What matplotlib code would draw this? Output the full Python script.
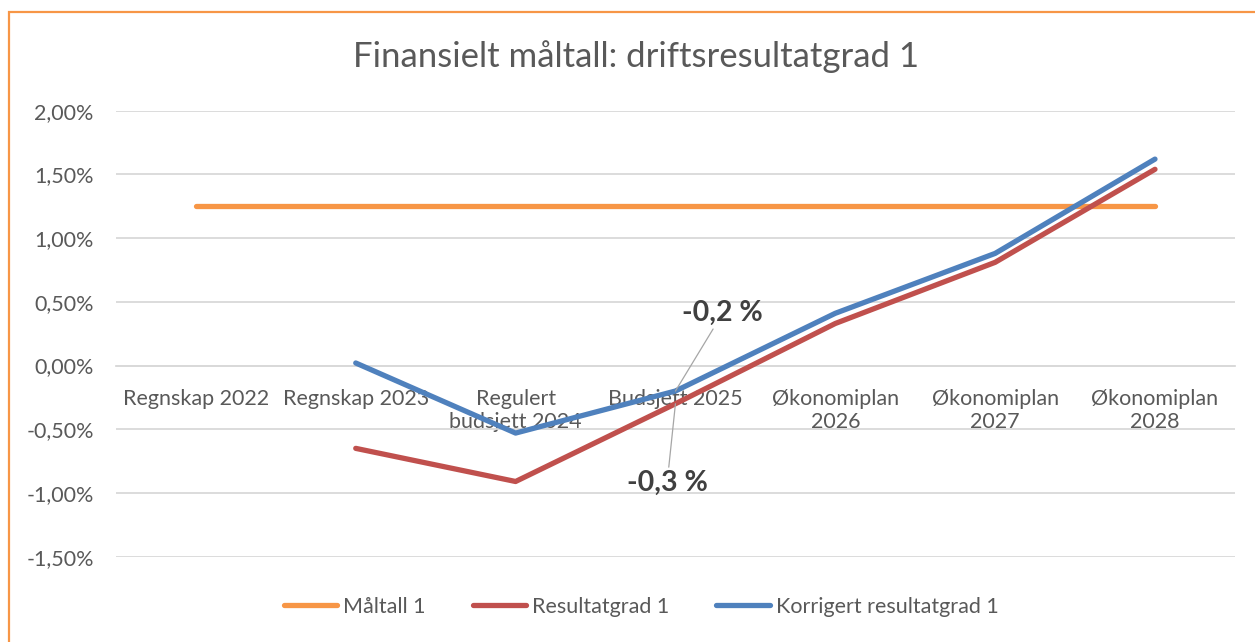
import numpy as np
import matplotlib.pyplot as plt
from matplotlib.patches import Rectangle
from matplotlib.ticker import FuncFormatter, MultipleLocator

plt.rcParams["font.family"] = ["Lato", "DejaVu Sans"]

# Data (percent)
categories = [
    "Regnskap 2022",
    "Regnskap 2023",
    "Regulert\nbudsjett 2024",
    "Budsjett 2025",
    "Økonomiplan\n2026",
    "Økonomiplan\n2027",
    "Økonomiplan\n2028",
]
maltall = [1.25, 1.25, 1.25, 1.25, 1.25, 1.25, 1.25]
resultatgrad = [np.nan, -0.65, -0.91, -0.30, 0.33, 0.81, 1.54]
korrigert = [np.nan, 0.02, -0.53, -0.20, 0.41, 0.88, 1.62]
series_names = ["Måltall 1", "Resultatgrad 1", "Korrigert resultatgrad 1"]

TEXT = "#595959"
GRID = "#D9D9D9"
colors = ["#F79646", "#C0504D", "#4F81BD"]

fig = plt.figure(figsize=(12.55, 6.42), dpi=100)
ax = fig.add_axes([0.0924, 0.1329, 0.8916, 0.6947])

# orange chart border
fig.patches.append(Rectangle((9 / 1255, -0.05), 1.5, 1 - 12 / 642 + 0.05,
                             transform=fig.transFigure, fill=False,
                             edgecolor="#F79646", lw=1.6))

x = np.arange(len(categories))
for vals, c, name in zip([maltall, resultatgrad, korrigert], colors, series_names):
    ax.plot(x, vals, color=c, lw=3.8, solid_capstyle="round",
            solid_joinstyle="round", label=name, zorder=3)

ax.set_xlim(-0.5, len(categories) - 0.5)
ax.set_ylim(-1.5, 2.0)
ax.yaxis.set_major_locator(MultipleLocator(0.5))
ax.yaxis.set_major_formatter(FuncFormatter(lambda v, p: f"{v:.2f}%".replace(".", ",")))
ax.grid(axis="y", color=GRID, lw=1.3)
ax.set_axisbelow(True)

for s in ["top", "right", "left"]:
    ax.spines[s].set_visible(False)
ax.spines["bottom"].set_position(("data", 0))
ax.spines["bottom"].set_color(GRID)
ax.spines["bottom"].set_linewidth(1.3)

ax.set_xticks(x)
ax.set_xticklabels(categories, linespacing=1.2)
ax.tick_params(axis="x", length=0, pad=17, labelsize=15.5, labelcolor=TEXT)
ax.tick_params(axis="y", length=0, pad=16, labelsize=15.5, labelcolor=TEXT)

fig.text(636.5 / 1255, 1 - 57 / 642, "Finansielt måltall: driftsresultatgrad 1",
         color=TEXT, fontsize=25, ha="center", va="center")

# data labels with leader lines
lead = dict(arrowstyle="-", color="#A6A6A6", lw=0.9, shrinkA=0, shrinkB=0)
ax.annotate("-0,2 %", xy=(x[3], korrigert[3]), xytext=(34, 56),
            textcoords="offset points", ha="center", va="center",
            fontsize=20.5, fontweight="bold", color="#404040",
            arrowprops=lead, zorder=5)
ax.annotate("-0,3 %", xy=(x[3], resultatgrad[3]), xytext=(-6, -57),
            textcoords="offset points", ha="center", va="center",
            fontsize=20.5, fontweight="bold", color="#404040",
            arrowprops=lead, zorder=5)

leg = fig.legend(loc="center", bbox_to_anchor=(641 / 1255, 1 - 607 / 642), ncol=3,
                 frameon=False, fontsize=15.5, handlelength=2.5,
                 columnspacing=2.2, handletextpad=0.25)
for t in leg.get_texts():
    t.set_color(TEXT)

fig.savefig("out.png", dpi=100)
